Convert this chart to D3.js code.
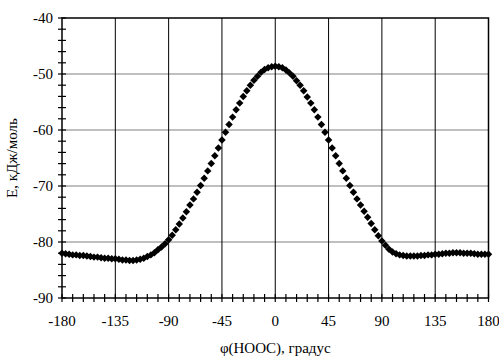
<!DOCTYPE html>
<html>
<head>
<meta charset="utf-8">
<script src="https://cdn.jsdelivr.net/npm/d3@7.9.0/dist/d3.min.js"></script>
<style>
  body { margin: 0; background: #fff; }
</style>
</head>
<body>
<svg id="chart" width="499" height="356"></svg>
<script>
const angles = [
  -180, -177, -174, -171, -168, -165, -162, -159, -156, -153, -150, -147, -144, -141, -138, -135,
  -132, -129, -126, -123, -120, -117, -114, -111, -108, -105, -102, -99, -96, -93, -90,
  -87, -84, -81, -78, -75, -72, -69, -66, -63, -60, -57, -54, -51, -48, -45,
  -42, -39, -36, -33, -30, -27, -24, -21, -18, -15, -12, -9, -6, -3, 0,
  3, 6, 9, 12, 15, 18, 21, 24, 27, 30, 33, 36, 39, 42, 45,
  48, 51, 54, 57, 60, 63, 66, 69, 72, 75, 78, 81, 84, 87, 90,
  93, 96, 99, 102, 105, 108, 111, 114, 117, 120, 123, 126, 129, 132, 135,
  138, 141, 144, 147, 150, 153, 156, 159, 162, 165, 168, 171, 174, 177, 180
];
const energy = [
  -82.0, -82.1, -82.2, -82.3, -82.3, -82.4, -82.4, -82.5, -82.6, -82.7, -82.7, -82.8, -82.9, -82.9, -83.0, -83.0,
  -83.1, -83.2, -83.2, -83.3, -83.3, -83.2, -83.1, -82.9, -82.6, -82.3, -81.9, -81.4, -80.9, -80.3, -79.6,
  -78.8, -77.8, -76.8, -75.7, -74.6, -73.4, -72.3, -71.1, -69.9, -68.6, -67.3, -66.0, -64.6, -63.2, -61.8,
  -60.4, -59.0, -57.7, -56.4, -55.2, -54.0, -53.0, -52.0, -51.1, -50.4, -49.7, -49.2, -48.9, -48.7, -48.6,
  -48.7, -48.9, -49.3, -49.8, -50.4, -51.2, -52.0, -53.0, -54.1, -55.2, -56.4, -57.7, -59.0, -60.4, -61.8,
  -63.2, -64.6, -66.0, -67.3, -68.6, -69.9, -71.1, -72.3, -73.4, -74.5, -75.6, -76.7, -77.8, -78.9, -79.8,
  -80.6, -81.3, -81.8, -82.1, -82.3, -82.4, -82.5, -82.5, -82.5, -82.5, -82.4, -82.4, -82.3, -82.3, -82.2,
  -82.2, -82.1, -82.0, -82.0, -81.9, -81.9, -81.9, -82.0, -82.0, -82.0, -82.1, -82.2, -82.2, -82.2, -82.2
];
const xTicks = [-180, -135, -90, -45, 0, 45, 90, 135, 180];
const yTicks = [-90, -80, -70, -60, -50, -40];
const xMinor = [-171, -162, -153, -144, -126, -117, -108, -99, -81, -72, -63, -54, -36, -27, -18, -9,
  9, 18, 27, 36, 54, 63, 72, 81, 99, 108, 117, 126, 144, 153, 162, 171];
const yMinor = [-88, -86, -84, -82, -78, -76, -74, -72, -68, -66, -64, -62, -58, -56, -54, -52, -48, -46, -44, -42];

const mLeft = 62, mRight = 488.5, mTop = 18, mBottom = 298;
const font = "'Liberation Serif', 'Times New Roman', serif";
const svg = d3.select('#chart');
const x = d3.scaleLinear().domain([-180, 180]).range([mLeft, mRight]);
const y = d3.scaleLinear().domain([-90, -40]).range([mBottom, mTop]);

// grid
svg.append('g').selectAll('line').data(yTicks.slice(1, -1)).join('line')
  .attr('x1', mLeft).attr('x2', mRight)
  .attr('y1', d => y(d)).attr('y2', d => y(d))
  .attr('stroke', '#808080').attr('stroke-width', 1);
svg.append('g').selectAll('line').data(xTicks.slice(1, -1)).join('line')
  .attr('x1', d => x(d)).attr('x2', d => x(d))
  .attr('y1', mTop).attr('y2', mBottom)
  .attr('stroke', '#000').attr('stroke-width', 1);

// frame
svg.append('rect')
  .attr('x', mLeft).attr('y', mTop)
  .attr('width', mRight - mLeft).attr('height', mBottom - mTop)
  .attr('fill', 'none').attr('stroke', '#000').attr('stroke-width', 1.5);

// ticks (crossing the axis lines)
const ticks = svg.append('g').attr('stroke', '#000').attr('stroke-width', 1.2);
ticks.selectAll('.ym').data(yTicks.concat(yMinor)).join('line')
  .attr('x1', mLeft - 4).attr('x2', mLeft + 4)
  .attr('y1', d => y(d)).attr('y2', d => y(d));
ticks.selectAll('.xm').data(xTicks.concat(xMinor)).join('line')
  .attr('x1', d => x(d)).attr('x2', d => x(d))
  .attr('y1', mBottom - 4).attr('y2', mBottom + 4);

// tick labels
svg.append('g').selectAll('text').data(yTicks).join('text')
  .attr('x', mLeft - 9).attr('y', d => y(d))
  .attr('dy', '0.35em').attr('text-anchor', 'end')
  .attr('font-family', font).attr('font-size', 15).text(d => d);
svg.append('g').selectAll('text').data(xTicks).join('text')
  .attr('x', d => x(d)).attr('y', 321)
  .attr('dy', '0.35em').attr('text-anchor', 'middle')
  .attr('font-family', font).attr('font-size', 15).text(d => d);

// axis titles
svg.append('text')
  .attr('x', (mLeft + mRight) / 2).attr('y', 348)
  .attr('dy', '0.35em').attr('text-anchor', 'middle')
  .attr('font-family', font).attr('font-size', 15).text('φ(HOOC), градус');
svg.append('text')
  .attr('transform', `translate(12,${(mTop + mBottom) / 2}) rotate(-90)`)
  .attr('dy', '0.35em').attr('text-anchor', 'middle')
  .attr('font-family', font).attr('font-size', 15).text('E, кДж/моль');

// data points
const diamond = d3.symbol().type(d3.symbolSquare).size(28);
svg.append('g').selectAll('path').data(angles).join('path')
  .attr('d', diamond)
  .attr('transform', (d, i) => `translate(${x(d)},${y(energy[i])}) rotate(45)`)
  .attr('fill', '#000');
</script>
</body>
</html>
